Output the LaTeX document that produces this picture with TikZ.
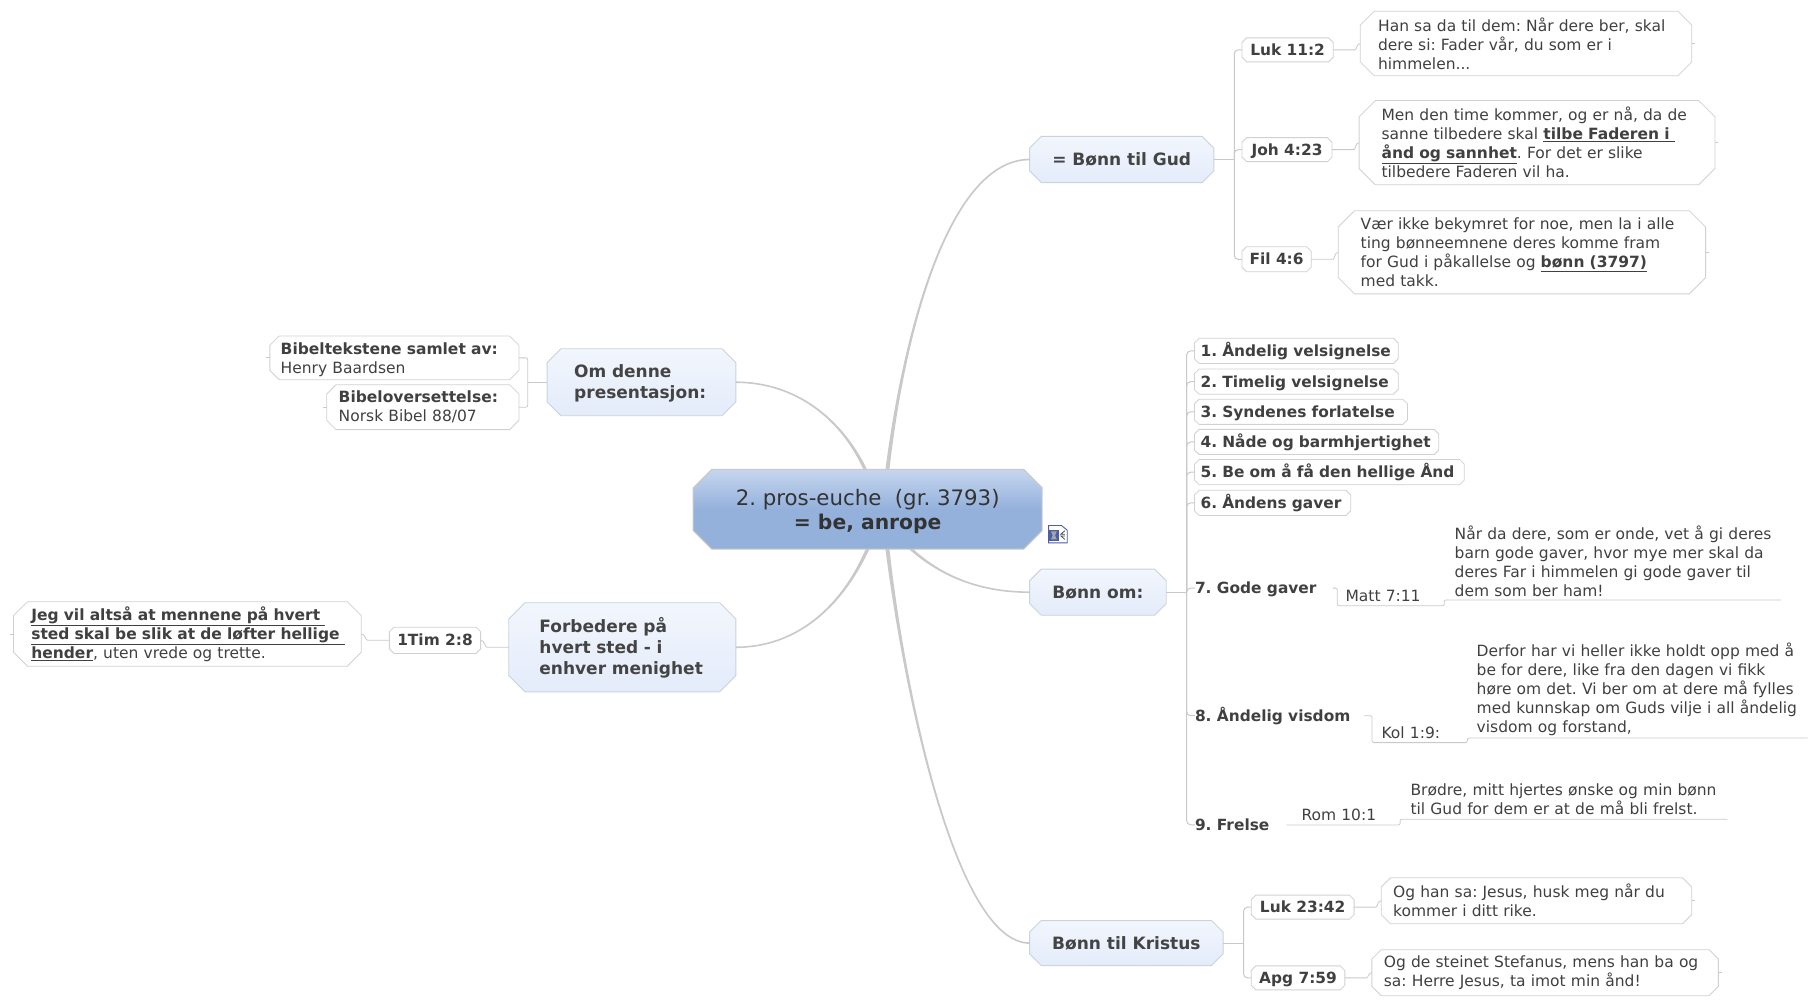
\documentclass[tikz,border=0pt]{standalone}
\usepackage{fontspec}
\setmainfont{DejaVu Sans}
\frenchspacing
\definecolor{inkdark}{HTML}{333333}
\definecolor{inktopic}{HTML}{444444}
\definecolor{inkleaf}{HTML}{404040}
\definecolor{edgegray}{HTML}{C9C9C9}
\definecolor{rootlow}{HTML}{94B1DC}
\definecolor{roothigh}{HTML}{C6D6EE}
\definecolor{topiclow}{HTML}{E4ECFA}
\definecolor{topichigh}{HTML}{F2F6FD}
\definecolor{topicedge}{HTML}{CAD2DD}
\definecolor{iconblue}{HTML}{4A5FA5}
\pgfdeclareverticalshading{rootshade}{100bp}{color(0bp)=(rootlow); color(25bp)=(rootlow); color(50bp)=(rootlow); color(75bp)=(roothigh); color(100bp)=(roothigh)}
\pgfkeys{/pgf/oct cut/.initial=4pt}
\pgfdeclareshape{octbox}{
    \inheritsavedanchors[from=rectangle]
    \inheritanchorborder[from=rectangle]
    \inheritanchor[from=rectangle]{center}
    \inheritanchor[from=rectangle]{north}
    \inheritanchor[from=rectangle]{south}
    \inheritanchor[from=rectangle]{east}
    \inheritanchor[from=rectangle]{west}
    \backgroundpath{
        \southwest \pgfgetlastxy{\octl}{\octb}
        \northeast \pgfgetlastxy{\octr}{\octt}
        \pgfmathsetlengthmacro{\octc}{\pgfkeysvalueof{/pgf/oct cut}}
        \pgfpathmoveto{\pgfpoint{\octl+\octc}{\octb}}
        \pgfpathlineto{\pgfpoint{\octr-\octc}{\octb}}
        \pgfpathlineto{\pgfpoint{\octr}{\octb+\octc}}
        \pgfpathlineto{\pgfpoint{\octr}{\octt-\octc}}
        \pgfpathlineto{\pgfpoint{\octr-\octc}{\octt}}
        \pgfpathlineto{\pgfpoint{\octl+\octc}{\octt}}
        \pgfpathlineto{\pgfpoint{\octl}{\octt-\octc}}
        \pgfpathlineto{\pgfpoint{\octl}{\octb+\octc}}
        \pgfpathclose
    }
}
\tikzset{
    wh/.style 2 args={minimum width=#1*1.16pt, minimum height=#2*1.16pt},
    tw/.style={text width=#1*1.16pt, align=left},
    cut/.style={shape=octbox, oct cut=#1*1.16pt, inner sep=0pt},
    rootnode/.style={cut=16, draw=edgegray, line width=1pt, shading=rootshade, text=inkdark, align=center, font=\fontsize{21.3}{24.5}\selectfont},
    topicnode/.style={cut=#1, draw=topicedge, line width=0.9pt, top color=topichigh, bottom color=topiclow, text=inktopic, font=\fontsize{17}{21}\selectfont\bfseries},
    oneline/.style={text height=15.4pt, text depth=3pt},
    refnode/.style={cut=4, draw=black!18, line width=0.8pt, fill=white, text=inkleaf, font=\fontsize{15.4}{19}\selectfont\bfseries, text height=14pt, text depth=2.8pt},
    leafnode/.style={cut=#1, draw=black!18, line width=0.8pt, fill=white, text=inkleaf, font=\fontsize{15.5}{19}\selectfont},
    plaintext/.style={inner sep=0pt, text=inkleaf, font=\fontsize{15.5}{19}\selectfont},
    boldtext/.style={inner sep=0pt, anchor=west, text=inkleaf, font=\fontsize{15.4}{19}\selectfont\bfseries, text height=14pt, text depth=2.8pt},
    main/.style={draw=edgegray, fill=edgegray, line width=1.6pt},
    branch/.style={draw=edgegray, line width=1pt, rounded corners=4pt},
    twig/.style={draw=edgegray, line width=0.8pt, rounded corners=2pt},
}
\begin{document}
\begin{tikzpicture}[x=1.16pt, y=-1.16pt]
    \useasboundingbox (0,0) rectangle (1568.1,867.2);

    % Curves from the centre
    \coordinate (rootup) at (765,405);
    \coordinate (rootleftup) at (746,405);
    \coordinate (rootleftdown) at (748,473);
    \coordinate (rootright) at (785,473);
    \coordinate (rootdown) at (765,473);

    % Topics
    \node[topicnode=10, wh={158}{39}, oneline] (gud) at (967,137.5) {= Bønn til Gud};
    \node[topicnode=12, wh={162}{57}, tw=116] (om) at (553,329.5) {\rule{0pt}{15.3pt}Om denne\\presentasjon:};
    \node[topicnode=14, wh={195}{76}, tw=143] (forb) at (536.5,558) {Forbedere på\\hvert sted - i\\enhver menighet};
    \node[topicnode=10, wh={117}{39}, oneline] (bonnom) at (946.5,510.5) {Bønn om:};
    \node[topicnode=10, wh={166}{38}, oneline] (kristus) at (971,813) {Bønn til Kristus};

    \path[main] ([xshift=-1.2pt]rootup) .. controls (780,280) and (820,137.5) .. (gud.west) .. controls (820,137.5) and (780,280) .. ([xshift=1.2pt]rootup) -- cycle;
    \path[main] ([xshift=-1pt]rootleftup) .. controls (725,360) and (685,329.5) .. (om.east) .. controls (685,329.5) and (725,360) .. ([xshift=1pt]rootleftup) -- cycle;
    \path[main] ([xshift=-1pt]rootleftdown) .. controls (725,525) and (685,558) .. (forb.east) .. controls (685,558) and (725,525) .. ([xshift=1pt]rootleftdown) -- cycle;
    \path[main] ([xshift=-1pt]rootright) .. controls (815,500) and (850,510.5) .. (bonnom.west) .. controls (850,510.5) and (815,500) .. ([xshift=1pt]rootright) -- cycle;
    \path[main] ([xshift=-1.2pt]rootdown) .. controls (780,600) and (825,813) .. (kristus.west) .. controls (825,813) and (780,600) .. ([xshift=1.2pt]rootdown) -- cycle;

    % Centre
    \node[rootnode, wh={300}{68}] (root) at (748,439) {\rule{0pt}{21pt}2. pros-euche\ \ (gr. 3793)\\\fontsize{20.3}{24.5}\selectfont\textbf{= be, anrope}};

    % Bønn til Gud
    \node[refnode, wh={78}{20}] (luka) at (1110,43) {Luk 11:2};
    \node[refnode, wh={77}{20}] (joh) at (1109.5,129) {Joh 4:23};
    \node[refnode, wh={59}{21}] (fil) at (1100.5,223.5) {Fil 4:6};
    \node[leafnode=12, wh={285}{55}, tw=255] (lukatext) at (1315.5,37.5) {Han sa da til dem: Når dere ber, skal\\dere si: Fader vår, du som er i\\himmelen...};
    \node[leafnode=14, wh={306}{72}, tw=268] (johtext) at (1325,123) {Men den time kommer, og er nå, da de\\sanne tilbedere skal \underline{\textbf{tilbe Faderen i\ }}\\\underline{\textbf{ånd og sannhet}}. For det er slike\\tilbedere Faderen vil ha.};
    \node[leafnode=14, wh={316}{71}, tw=278] (filtext) at (1312,217.5) {Vær ikke bekymret for noe, men la i alle\\ting bønneemnene deres komme fram\\for Gud i påkallelse og \underline{\textbf{bønn (3797)}}\\med takk.};
    \coordinate (gudfork) at (1064,137.5);
    \draw[branch] (gud.east) -- (gudfork);
    \foreach \n in {luka,joh,fil} \draw[branch] (\n.west) -| (gudfork);
    \draw[twig] (luka.east) -- ++(17,0) to[out=0,in=180] (lukatext.west);
    \draw[twig] (joh.east) -- ++(17,0) to[out=0,in=180] (johtext.west);
    \draw[twig] (fil.east) -- ++(17,0) to[out=0,in=180] (filtext.west);
    \foreach \n in {lukatext,johtext,filtext} \draw[twig] (\n.east) -- ++(3,0);

    % Om denne presentasjon
    \node[leafnode=8, wh={214}{37}, tw=196] (bibela) at (340,308.5) {\rule{0pt}{15pt}\textbf{Bibeltekstene samlet av:}\\Henry Baardsen};
    \node[leafnode=8, wh={165}{38}, tw=145] (bibelb) at (364.5,351) {\textbf{Bibeloversettelse:}\\Norsk Bibel 88/07};
    \coordinate (omfork) at (455,329.5);
    \draw[branch] (om.west) -- (omfork);
    \foreach \n in {bibela,bibelb} \draw[twig] (\n.east) -| (omfork);
    \foreach \n in {bibela,bibelb} \draw[twig] (\n.west) -- ++(-3,0);

    % Forbedere
    \node[refnode, wh={78}{22}] (tim) at (375,552) {1Tim 2:8};
    \node[leafnode=12, wh={299}{55}, tw=269] (timtext) at (161.5,546.5) {\underline{\textbf{Jeg vil altså at mennene på hvert\ }}\\\underline{\textbf{sted skal be slik at de løfter hellige\ }}\\\underline{\textbf{hender}}, uten vrede og trette.};
    \draw[twig] (forb.west) -- ++(-17,0) to[out=180,in=0] (tim.east);
    \draw[twig] (tim.west) -- ++(-17,0) to[out=180,in=0] (timtext.east);
    \draw[twig] (timtext.west) -- ++(-3,0);

    % Bønn om
    \node[refnode, wh={175}{21}, tw=165] (itema) at (1117.5,302.5) {1. Åndelig velsignelse};
    \node[refnode, wh={175}{21}, tw=165] (itemb) at (1117.5,329) {2. Timelig velsignelse};
    \node[refnode, wh={183}{21}, tw=173] (itemc) at (1121.5,355) {3. Syndenes forlatelse};
    \node[refnode, wh={210}{21}, tw=200] (itemd) at (1135,381) {4. Nåde og barmhjertighet};
    \node[refnode, wh={232}{21}, tw=222] (iteme) at (1146,407) {5. Be om å få den hellige Ånd};
    \node[refnode, wh={134}{21}, tw=124] (itemf) at (1097,433.5) {6. Åndens gaver};
    \node[boldtext] (itemg) at (1030,507) {7. Gode gaver};
    \node[boldtext] (itemh) at (1030,617) {8. Åndelig visdom};
    \node[boldtext] (itemi) at (1030,711) {9. Frelse};
    \coordinate (bonnfork) at (1023,510.5);
    \draw[branch] (bonnom.east) -- (bonnfork);
    \foreach \n in {itema,itemb,itemc,itemd,iteme,itemf,itemg,itemh,itemi} \draw[branch] (\n.west) -| (bonnfork);

    \node[plaintext, wh={92}{16}, tw=78] (matt) at (1199,514) {Matt 7:11};
    \node[plaintext, wh={290}{66}, tw=272] (matttext) at (1390,484) {\mbox{Når da dere, som er onde, vet å gi deres}\\barn gode gaver, hvor mye mer skal da\\deres Far i himmelen gi gode gaver til\\dem som ber ham!};
    \coordinate (mattin) at (1149,507);
    \draw[twig] (mattin) -| (matt.south west) -- (matt.south east) -- (matttext.south west) -- (matttext.south east);

    \node[plaintext, wh={82}{16}, tw=66] (kol) at (1224,632) {Kol 1:9:};
    \node[plaintext, wh={293}{83}, tw=277] (koltext) at (1411.5,594.5) {Derfor har vi heller ikke holdt opp med å\\be for dere, like fra den dagen vi fikk\\høre om det. Vi ber om at dere må fylles\\med kunnskap om Guds vilje i all åndelig\\visdom og forstand,};
    \coordinate (kolin) at (1176,617);
    \draw[twig] (kolin) -| (kol.south west) -- (kol.south east) -- (koltext.south west) -- (koltext.south east);

    \node[plaintext, wh={98}{17}, tw=72] (rom) at (1158,702.5) {Rom 10:1};
    \node[plaintext, wh={282}{34}, tw=264] (romtext) at (1348,689) {Brødre, mitt hjertes ønske og min bønn\\til Gud for dem er at de må bli frelst.};
    \draw[twig] (rom.south west) -- (rom.south east) -- (romtext.south west) -- (romtext.south east);

    % Bønn til Kristus
    \node[refnode, wh={88}{20}] (lukb) at (1123,782) {Luk 23:42};
    \node[refnode, wh={80}{20}] (apg) at (1119,843) {Apg 7:59};
    \node[leafnode=8, wh={267}{39}, tw=247] (lukbtext) at (1324.5,776.5) {Og han sa: Jesus, husk meg når du\\kommer i ditt rike.};
    \node[leafnode=8, wh={298}{39}, tw=278] (apgtext) at (1332,838.5) {Og de steinet Stefanus, mens han ba og\\sa: Herre Jesus, ta imot min ånd!};
    \coordinate (kristfork) at (1072,813);
    \draw[branch] (kristus.east) -- (kristfork);
    \foreach \n in {lukb,apg} \draw[branch] (\n.west) -| (kristfork);
    \draw[twig] (lukb.east) -- ++(17,0) to[out=0,in=180] (lukbtext.west);
    \draw[twig] (apg.east) -- ++(17,0) to[out=0,in=180] (apgtext.west);
    \foreach \n in {lukbtext,apgtext} \draw[twig] (\n.east) -- ++(3,0);

    % Icon
    \draw[iconblue, fill=white, line width=0.9pt] (904,453) -- (915,453) -- (920,457) -- (920,468) -- (904,468) -- cycle;
    \fill[iconblue] (904,457) rectangle (913,466);
    \fill[black!35] (906,458) -- (911,458) -- (909.5,461.5) -- (911,465) -- (906,465) -- (907.5,461.5) -- cycle;
    \draw[black!70, line width=0.8pt] (918,457.5) -- (914.5,460.5) -- (918,460.5) (918,465) -- (914.5,462) -- (918,462);
\end{tikzpicture}
\end{document}
